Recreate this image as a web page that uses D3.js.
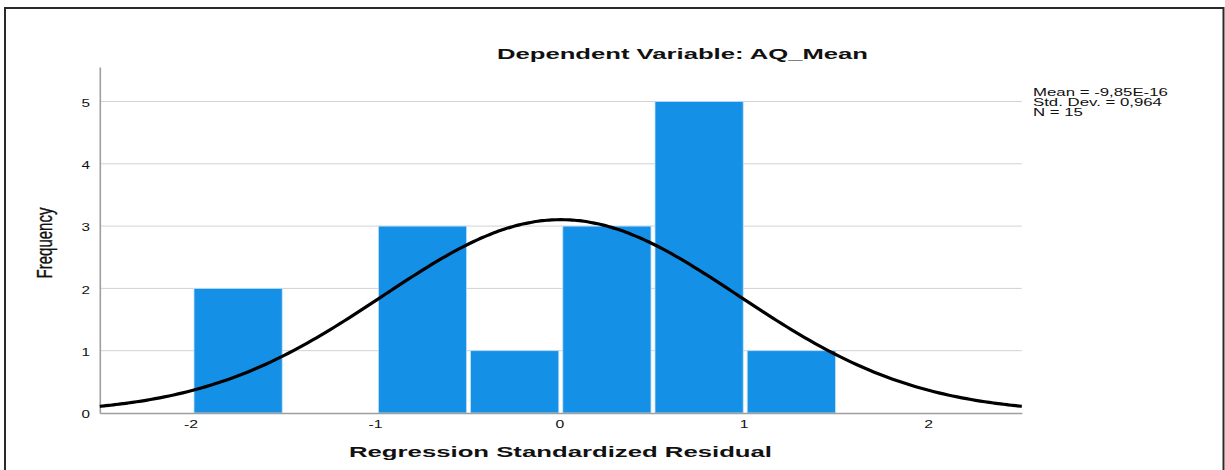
<!DOCTYPE html>
<html>
<head>
<meta charset="utf-8">
<script src="https://cdn.jsdelivr.net/npm/d3@7"></script>
<style>
  html, body { margin: 0; padding: 0; background: #fff; }
  svg { display: block; font-family: "Liberation Sans", Arial, sans-serif; }
</style>
</head>
<body>
<svg id="chart" width="1225" height="470"></svg>
<script>
// ---- data ----
const binStarts = [-2.0, -1.0, -0.5, 0.0, 0.5, 1.0];
const binWidth = 0.5;
const frequencies = [2, 3, 1, 3, 5, 1];
const yTicks = [0, 1, 2, 3, 4, 5];
const xTicks = [-2, -1, 0, 1, 2];
const statMean = -9.85e-16;
const statSD = 0.964;
const statN = 15;
const statLabels = ["Mean = -9,85E-16", "Std. Dev. = 0,964", "N = 15"];
const titleText = "Dependent Variable: AQ_Mean";
const xLabelText = "Regression Standardized Residual";
const yLabelText = "Frequency";

// ---- layout ----
const svg = d3.select("#chart");
const x = d3.scaleLinear().domain([-2.5, 2.5]).range([99.8, 1021.8]);
const y = d3.scaleLinear().domain([0, 5.554]).range([413, 67]);
const sx = 1.55; // horizontal stretch of the rendered text

// outer frame (no bottom edge)
svg.append("path")
  .attr("d", "M5,472 L5,8 L1223.5,8 L1223.5,472")
  .attr("fill", "none").attr("stroke", "#2a2a2a").attr("stroke-width", 2);

// gridlines
svg.append("g").selectAll("line").data(yTicks.filter(d => d > 0)).join("line")
  .attr("x1", x.range()[0]).attr("x2", x.range()[1])
  .attr("y1", d => y(d)).attr("y2", d => y(d))
  .attr("stroke", "#d2d2d2").attr("stroke-width", 1);

// bars
const bins = binStarts.map((s, i) => ({ x0: s, x1: s + binWidth, n: frequencies[i] }));
svg.append("g").selectAll("rect").data(bins).join("rect")
  .attr("x", d => x(d.x0) + 2)
  .attr("width", d => x(d.x1) - x(d.x0) - 4)
  .attr("y", d => y(d.n))
  .attr("height", d => y(0) - y(d.n))
  .attr("fill", "#1490e6")
  .attr("stroke", "#bfe0fa").attr("stroke-width", 0.8);

// axes lines
const yAxis = d3.axisLeft(y).tickValues(yTicks).tickSize(0).tickFormat(d3.format("d"));
const xAxis = d3.axisBottom(x).tickValues(xTicks).tickSize(0).tickFormat(d3.format("d"));
const gy = svg.append("g").attr("transform", `translate(${x.range()[0]},0)`).call(yAxis);
const gx = svg.append("g").attr("transform", `translate(0,${y(0)})`).call(xAxis);
[gy, gx].forEach(g => {
  g.select(".domain").attr("stroke", "#9e9e9e").attr("stroke-width", 1.6);
  g.selectAll(".tick text").remove();
});

// tick labels (stretched horizontally)
function stext(px, py, str, opts) {
  const t = svg.append("text")
    .attr("transform", `translate(${px},${py}) scale(${opts.sx || sx},1)`)
    .attr("font-size", opts.size || 10.5)
    .attr("font-weight", opts.weight || "normal")
    .attr("text-anchor", opts.anchor || "start")
    .attr("fill", "#111")
    .text(str);
  return t;
}
yTicks.forEach(d => stext(90, y(d) + 5.3, d3.format("d")(d), { anchor: "end", sx: 1.45 }));
xTicks.forEach(d => stext(x(d) - 1, 428, d3.format("d")(d).replace("−", "-"), { anchor: "middle", sx: 1.5 }));

// normal curve based on the stated statistics
const curveXs = d3.range(0, 201).map(i => -2.5 + i * 0.025);
const curveData = curveXs.map(v => ({
  v,
  f: statN * binWidth * Math.exp(-0.5 * ((v - statMean) / statSD) ** 2) / (statSD * Math.sqrt(2 * Math.PI))
}));
svg.append("path").datum(curveData)
  .attr("d", d3.line().x(d => x(d.v)).y(d => y(d.f)).curve(d3.curveBasis))
  .attr("fill", "none").attr("stroke", "#000").attr("stroke-width", 3.2);

// title
svg.append("text").attr("x", 497).attr("y", 59.3)
  .attr("font-size", 14).attr("font-weight", "bold").attr("fill", "#111")
  .attr("textLength", 371).attr("lengthAdjust", "spacingAndGlyphs")
  .text(titleText);

// x label
svg.append("text").attr("x", 349).attr("y", 457)
  .attr("font-size", 15).attr("font-weight", "bold").attr("fill", "#111")
  .attr("textLength", 423).attr("lengthAdjust", "spacingAndGlyphs")
  .text(xLabelText);

// y label
svg.append("text")
  .attr("transform", "translate(52,243) scale(1.45,1) rotate(-90)")
  .attr("font-size", 15).attr("text-anchor", "middle").attr("fill", "#111")
  .attr("stroke", "#111").attr("stroke-width", 0.25)
  .text(yLabelText);

// stats legend
statLabels.forEach((s, i) => {
  stext(1033, 95.7 + i * 9.9, s, { size: 10.5, sx: 1.6 });
});
</script>
</body>
</html>
